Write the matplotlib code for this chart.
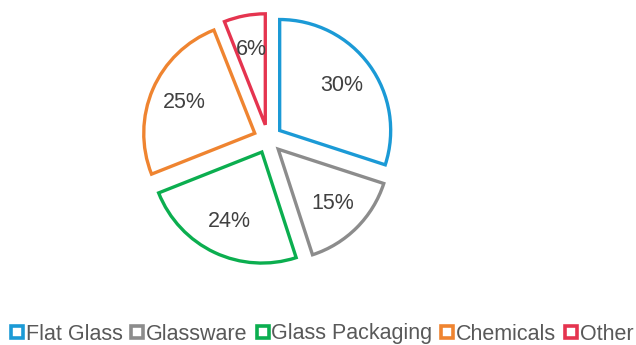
import matplotlib.pyplot as plt
from matplotlib.lines import Line2D

plt.rcParams['font.family'] = ['Liberation Sans', 'DejaVu Sans']

labels = ["Flat Glass", "Glassware", "Glass Packaging", "Chemicals", "Other"]
shares = [30, 15, 24, 25, 6]
colors = ["#1b9ad6", "#8c8c8c", "#0bae4f", "#ef8430", "#e5344f"]

fig = plt.figure(figsize=(6.36, 3.45), dpi=100)

# pie axes: 1 data unit = R px, centred on (cx, cy) px
R = 111.0
half = 1.3
cx, cy = 268, 139
w = 2 * half * R
ax = fig.add_axes([(cx - w / 2) / 636, (345 - cy - w / 2) / 345, w / 636, w / 345])

wedges, texts = ax.pie(shares, colors=colors, startangle=90, counterclock=False,
                       explode=[0.13] * len(shares),
                       labels=[f"{s}%" for s in shares], labeldistance=0.69,
                       wedgeprops=dict(facecolor="white", linewidth=2.4),
                       textprops=dict(color="#404040", fontsize=15.5, ha="center", va="center"))
for wdg, c in zip(wedges, colors):
    wdg.set_edgecolor(c)
    wdg.set_joinstyle("miter")
ax.set_xlim(-half, half)
ax.set_ylim(-half, half)
ax.set_aspect("auto")

handles = [Line2D([], [], linestyle="none", marker="s", markersize=8,
                  markerfacecolor="white", markeredgecolor=c, markeredgewidth=2.6)
           for c in colors]
fig.legend(handles, labels, loc="center", bbox_to_anchor=(322 / 636, 1 - 334 / 345),
           ncol=5, frameon=False, handlelength=0.6, handletextpad=0.1,
           columnspacing=0.4, fontsize=15.5, labelcolor="#595959")

fig.savefig("out.png", dpi=100)
